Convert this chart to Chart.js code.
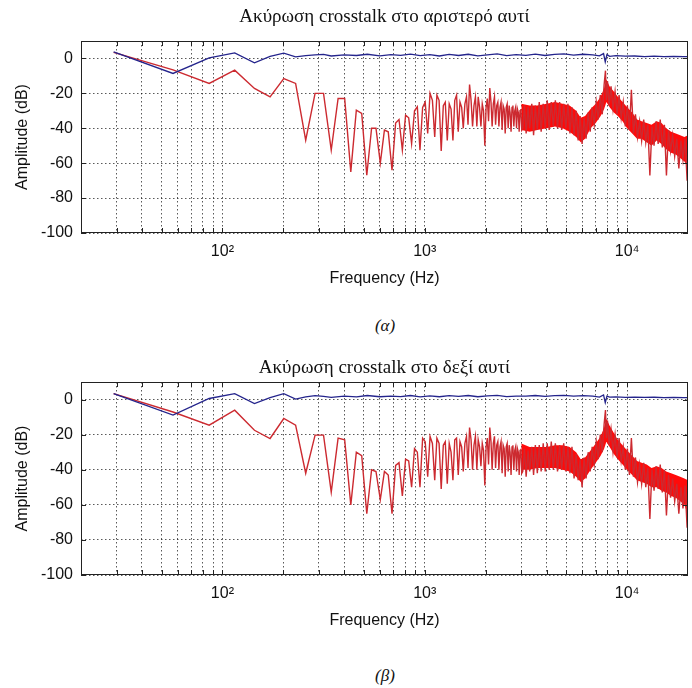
<!DOCTYPE html>
<html>
<head>
<meta charset="utf-8">
<script src="https://cdn.jsdelivr.net/npm/chart.js@4.4.0/dist/chart.umd.min.js"></script>
<style>
  body { margin: 0; background: #fff; width: 692px; height: 688px; position: relative; overflow: hidden; }
  .box { position: absolute; left: 0; width: 692px; }
  .cap { position: absolute; left: 335px; width: 100px; text-align: center; line-height: 20px;
         font: italic 17px "Liberation Serif", "Times New Roman", serif; color: #111; }
</style>
</head>
<body>
<div class="box" style="top:0; height:292px"><canvas id="chartLeft"></canvas></div>
<div class="cap" style="top:316px">(α)</div>
<div class="box" style="top:350px; height:284px"><canvas id="chartRight"></canvas></div>
<div class="cap" style="top:666px">(β)</div>

<script>
// titles
const titleLeft = 'Ακύρωση crosstalk στο αριστερό αυτί';
const titleRight = 'Ακύρωση crosstalk στο δεξί αυτί';

// axis ticks
const xGridHz = [30, 40, 50, 60, 70, 80, 90, 100, 200, 300, 400, 500, 600, 700, 800, 900,
  1000, 2000, 3000, 4000, 5000, 6000, 7000, 8000, 9000, 10000];
const xLabelHz = [100, 1000, 10000];
const xLabelText = ['10²', '10³', '10⁴'];
const yTickDb = [-100, -80, -60, -40, -20, 0];

// blue: direct path (dB)
const blueHz = [29, 57, 86, 115, 144, 172, 201, 230, 258, 287, 316, 345, 400, 460, 520, 600, 680, 760, 850, 950,
  1060, 1180, 1320, 1470, 1640, 1830, 2040, 2280, 2540, 2830, 3160, 3520, 3930, 4380, 4880, 5440, 6070, 6770,
  7300, 7650, 7800, 7950, 8200, 8800, 9800, 10900, 12200, 13600, 15200, 17000, 19000, 20000];
const blueLeftDb = [3.8, -8.6, 0.3, 3.2, -2.5, 1.2, 3.0, 0.9, 1.6, 2.0, 2.3, 1.4, 2.1, 1.7, 2.4, 1.5, 2.2, 1.8, 2.5, 1.6,
  2.2, 1.4, 2.3, 1.7, 2.4, 1.5, 2.0, 2.6, 1.6, 2.2, 1.8, 2.5, 1.7, 2.3, 2.6, 1.9, 2.4, 2.0,
  1.5, 2.8, -2.0, 2.2, 1.2, 1.6, 1.3, 1.4, 1.1, 1.3, 1.0, 1.2, 1.0, 1.1];
const blueRightDb = [3.4, -8.9, 0.6, 3.4, -2.3, 1.1, 3.4, 0.3, 1.5, 2.2, 1.8, 1.2, 2.0, 1.5, 2.3, 1.6, 2.0, 1.7, 2.3, 1.5,
  2.1, 1.6, 2.2, 1.8, 2.3, 1.6, 2.1, 2.4, 1.7, 2.0, 1.9, 2.3, 1.8, 2.2, 2.4, 2.0, 2.2, 1.9,
  1.4, 2.6, -1.8, 2.0, 1.4, 1.5, 1.2, 1.4, 1.2, 1.3, 1.1, 1.2, 1.1, 1.1];

// red: residual crosstalk (dB)
const redHz = [29, 57, 86, 115, 144, 172, 201, 230, 258, 287, 316, 345, 373, 402, 431, 459, 488, 517, 546, 574,
  603, 632, 660, 689, 718, 746, 775, 804, 833, 861, 890, 919, 947, 976,
  1005, 1034, 1062, 1091, 1120, 1148, 1177, 1206, 1235, 1263, 1292, 1321, 1349, 1378, 1407, 1436, 1464, 1493,
  1522, 1550, 1579, 1608, 1636, 1665, 1694, 1723, 1751, 1780, 1809, 1837, 1866, 1895, 1924, 1952, 1981, 2010,
  2038, 2067, 2096, 2125, 2153, 2182, 2211, 2239, 2268, 2297, 2325, 2354, 2383, 2412, 2440, 2469, 2498, 2526,
  2555, 2584, 2613, 2641, 2670, 2699, 2727, 2756, 2785, 2813, 2842, 2871, 2900, 2928, 2957, 2986, 3015,
  3050, 3110, 3170, 3240, 3300, 3380, 3450, 3520, 3600, 3680, 3760, 3850, 3940, 4030, 4120, 4220, 4320, 4420,
  4530, 4640, 4750, 4860, 4980, 5100, 5220, 5340, 5470, 5600, 5730, 5860, 5990, 6130, 6270, 6420, 6570, 6720,
  6880, 7040, 7200, 7370, 7540, 7700, 7820, 7900, 8000, 8150, 8330, 8520, 8720, 8920, 9130, 9350, 9570, 9800,
  10030, 10270, 10500, 10750, 11000, 11260, 11530, 11800, 12080, 12370, 12660, 12960, 13270, 13590, 13910,
  14240, 14580, 14930, 15290, 15650, 16020, 16400, 16790, 17190, 17600, 18020, 18450, 18890, 19340, 19800, 20000];
const redLeftDb = [3.5, -6.5, -14.3, -6.7, -17.2, -22, -11.5, -14.3, -46.8, -20, -20, -52.5, -22.9, -22.9, -65, -29.6,
  -31.5, -66.9, -40, -40, -60, -41, -42, -64, -37, -35, -52.5, -32.5, -34, -48.7, -30, -27.7, -52.5, -28,
  -25, -43, -20, -24, -45, -21, -24, -53, -27, -25, -47, -26, -29, -47, -24, -21, -42, -25, -28, -40,
  -26, -22, -38, -15, -24, -39, -27, -22, -39, -22, -28, -39, -26, -30, -50, -28, -23, -36, -17, -25,
  -39, -26, -22, -38, -27, -25, -39, -28, -25, -41, -27, -29, -43, -28, -26, -40, -27, -31, -42, -28,
  -27, -39, -30, -28, -40, -29, -31, -42, -30, -29, -41,
  -40, -27, -43, -28, -40, -26, -44, -27, -41, -25, -42, -26, -40, -24, -41, -25, -39, -24, -40, -25,
  -41, -26, -40, -26, -43, -28, -44, -30, -47, -33, -49, -34, -46, -31, -42, -28, -38, -25, -35, -21,
  -32, -15, -7, -24, -13, -27, -16, -29, -19, -32, -21, -34, -25, -39, -27, -41, -18, -43, -32, -45,
  -36, -47, -35, -48, -38, -67, -39, -50, -36, -49, -35, -51, -38, -67, -41, -53, -44, -56, -46, -63,
  -47, -58, -46, -70, -47];
const redRightDb = [3.4, -7.1, -14.6, -6.1, -17.5, -22.2, -10.8, -14.6, -42, -20.3, -20.3, -52.7, -22, -23, -60, -30,
  -32, -65, -40, -41, -57, -41, -43, -65, -37.5, -36, -55, -34, -35, -50, -28, -30, -50, -22,
  -24, -44, -21, -25, -46, -22, -25, -51, -26, -24, -48, -25, -30, -46, -23, -22, -43, -24, -27, -41,
  -25, -21, -39, -16, -23, -40, -26, -21, -40, -23, -27, -38, -25, -29, -49, -27, -22, -37, -16, -24,
  -40, -25, -21, -39, -26, -24, -40, -27, -24, -42, -26, -28, -44, -27, -25, -41, -26, -30, -43, -27,
  -26, -40, -29, -27, -41, -28, -30, -43, -29, -28, -42,
  -41, -28, -44, -29, -41, -27, -43, -26, -42, -26, -41, -25, -41, -25, -40, -24, -40, -25, -41, -26,
  -40, -25, -41, -27, -42, -27, -45, -31, -46, -34, -50, -33, -45, -30, -41, -27, -37, -24, -34, -20,
  -30, -14, -6, -22, -12, -26, -17, -30, -20, -33, -22, -35, -27, -40, -28, -43, -22, -44, -33, -47,
  -37, -48, -36, -50, -39, -68, -40, -52, -38, -51, -37, -53, -40, -66, -43, -56, -45, -58, -48, -65,
  -50, -62, -49, -73, -55];

// dense red band above 3 kHz: upper and lower envelope (dB)
const bandHz = [3000, 3300, 3600, 4000, 4400, 4800, 5200, 5600, 5900, 6200, 6600, 7000, 7400, 7700, 7900, 8200,
  8600, 9000, 9500, 10000, 10600, 11200, 11800, 12500, 13200, 14000, 14800, 15600, 16500, 17400, 18300, 19200, 20000];
const bandLeftHi = [-26, -27, -27, -26, -25, -26, -27, -30, -34, -33, -29, -26, -22, -17, -12, -16,
  -19, -22, -25, -28, -31, -35, -36, -37, -38, -36, -37, -40, -42, -43, -44, -45, -44];
const bandLeftLo = [-41, -42, -41, -40, -39, -40, -42, -45, -48, -46, -40, -37, -33, -29, -25, -28,
  -31, -33, -36, -40, -43, -46, -46, -48, -50, -47, -49, -52, -54, -55, -57, -59, -62];
const bandRightHi = [-25, -27, -27, -27, -26, -26, -27, -30, -34, -33, -29, -25, -21, -16, -11, -15,
  -19, -23, -26, -29, -32, -35, -36, -37, -39, -38, -39, -41, -42, -43, -44, -45, -46];
const bandRightLo = [-40, -40, -39, -39, -39, -40, -41, -44, -47, -45, -40, -36, -32, -28, -24, -27,
  -31, -34, -37, -40, -43, -46, -47, -48, -50, -50, -52, -53, -55, -56, -58, -60, -66];

const sans = '"Liberation Sans", Arial, sans-serif';
const serif = '"Liberation Serif", "Times New Roman", serif';
const gridColor = 'rgba(0,0,0,0.65)';

function pts(hz, db) {
  return hz.map((f, i) => ({ x: f, y: db[i] }));
}

// box around the axes with inward tick marks, matlab style
const framePlugin = {
  id: 'frame',
  afterDraw(chart) {
    const { ctx, chartArea: a, scales: { x, y } } = chart;
    ctx.save();
    ctx.strokeStyle = '#222';
    ctx.lineWidth = 1;
    ctx.strokeRect(a.left + 0.5, a.top + 0.5, a.width - 1, a.height - 1);
    ctx.beginPath();
    x.ticks.forEach(t => {
      const px = Math.round(x.getPixelForValue(t.value)) + 0.5;
      ctx.moveTo(px, a.bottom); ctx.lineTo(px, a.bottom - 5);
      ctx.moveTo(px, a.top); ctx.lineTo(px, a.top + 5);
    });
    y.ticks.forEach(t => {
      const py = Math.round(y.getPixelForValue(t.value)) + 0.5;
      ctx.moveTo(a.left, py); ctx.lineTo(a.left + 5, py);
      ctx.moveTo(a.right, py); ctx.lineTo(a.right - 5, py);
    });
    ctx.stroke();
    ctx.restore();
  }
};

function makeChart(id, title, blueDb, redDb, hi, lo, titlePad) {
  return new Chart(document.getElementById(id), {
    type: 'line',
    data: {
      datasets: [
        { data: pts(blueHz, blueDb), borderColor: '#24248c', borderWidth: 1.3, pointRadius: 0, tension: 0 },
        { data: pts(redHz, redDb), borderColor: '#cc2a30', borderWidth: 1.4, pointRadius: 0, tension: 0 },
        { data: pts(bandHz, hi), borderColor: 'rgba(0,0,0,0)', borderWidth: 1, pointRadius: 0, fill: false },
        { data: pts(bandHz, lo), borderColor: 'rgba(0,0,0,0)', borderWidth: 1, pointRadius: 0,
          fill: '-1', backgroundColor: '#ff0a0a' }
      ]
    },
    options: {
      responsive: true,
      maintainAspectRatio: false,
      animation: false,
      layout: { padding: { left: 10, right: 4, top: 0, bottom: 0 } },
      plugins: {
        legend: { display: false },
        tooltip: { enabled: false },
        title: {
          display: true, text: title, fullSize: false, color: '#111',
          font: { family: serif, size: 19, weight: 'normal' },
          padding: titlePad
        }
      },
      scales: {
        x: {
          type: 'logarithmic', min: 20, max: 20000,
          afterBuildTicks: s => { s.ticks = xGridHz.map(v => ({ value: v })); },
          afterFit: s => { s.height = 59; },
          grid: { color: gridColor, lineWidth: 1, drawTicks: false },
          border: { display: false, dash: [1.5, 2.5] },
          ticks: {
            autoSkip: false, maxRotation: 0, padding: 9, color: '#111',
            font: { family: sans, size: 16 },
            callback: v => {
              const i = xLabelHz.indexOf(v);
              return i >= 0 ? xLabelText[i] : '';
            }
          },
          title: { display: true, text: 'Frequency (Hz)', color: '#111',
                   font: { family: sans, size: 16 }, padding: { top: 0, bottom: 4 } }
        },
        y: {
          min: -100, max: 10,
          afterBuildTicks: s => { s.ticks = yTickDb.map(v => ({ value: v })); },
          afterFit: s => { s.width = 71; },
          grid: { color: gridColor, lineWidth: 1, drawTicks: false },
          border: { display: false, dash: [1.5, 2.5] },
          ticks: { padding: 8, color: '#111', font: { family: sans, size: 16 } },
          title: { display: true, text: 'Amplitude (dB)', color: '#111',
                   font: { family: sans, size: 16 }, padding: { top: 3, bottom: 0 } }
        }
      }
    },
    plugins: [framePlugin]
  });
}

makeChart('chartLeft', titleLeft, blueLeftDb, redLeftDb, bandLeftHi, bandLeftLo, { top: 5.6, bottom: 12.6 });
makeChart('chartRight', titleRight, blueRightDb, redRightDb, bandRightHi, bandRightLo, { top: 6.6, bottom: 2.6 });
</script>
</body>
</html>
